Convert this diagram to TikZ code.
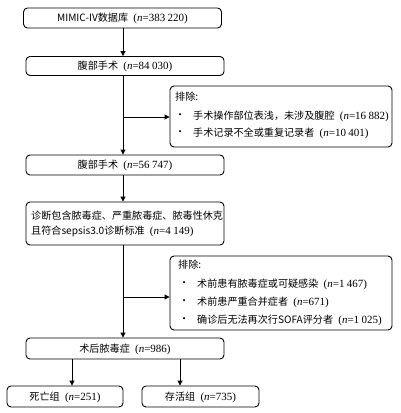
\documentclass[tikz,border=0pt]{standalone}
\usepackage{fontspec}
\setmainfont{Liberation Serif}
\setsansfont{Liberation Sans}
\newfontfamily\cjk{Noto Sans CJK SC}
\usetikzlibrary{arrows.meta}
\newcommand{\nv}[1]{\hspace{3pt}{\rmfamily\fontsize{11}{12}\selectfont(\textit{n}=#1)}}
\newcommand{\dsp}{\hspace{2.4pt}}
\begin{document}
\begin{tikzpicture}[x=1pt,y=-1pt,
  box/.style={draw,line width=0.9pt,rounded corners=4pt,inner sep=0pt},
  txt/.style={inner sep=0pt,font=\fontsize{10.1}{12}\selectfont\cjk},
  arr/.style={line width=0.9pt,-{Triangle[length=5pt,width=5pt]}},
  ln/.style={line width=0.9pt}]
\useasboundingbox (0,0) rectangle (401,413);
% main boxes
\node[box,minimum width=198pt,minimum height=20pt] (b1) at (122.5,18) {};
\node[txt] (t1) at (122.5,18.5) {MIMIC-IV数据库 \nv{383\dsp220}};
\node[box,minimum width=198pt,minimum height=19pt] (b2) at (125,66) {};
\node[txt] (t2) at (125,66.5) {腹部手术 \nv{84\dsp030}};
\node[box,minimum width=198pt,minimum height=20pt] (b3) at (125,165) {};
\node[txt] (t3) at (125,165.5) {腹部手术 \nv{56\dsp747}};
\node[box,minimum width=198pt,minimum height=43pt] (b4) at (125,223.5) {};
\node[txt,anchor=west] (t4a) at (31,216) {诊断包含脓毒症、严重脓毒症、脓毒性休克};
\node[txt,anchor=west] (t4b) at (31,231) {且符合sepsis3.0诊断标准 \nv{4\dsp149}};
\node[box,minimum width=198pt,minimum height=21pt] (b5) at (125,348.5) {};
\node[txt] (t5) at (125,349) {术后脓毒症 \nv{986}};
\node[box,minimum width=116pt,minimum height=21pt] (b6) at (65,396.5) {};
\node[txt] (t6) at (65,397) {死亡组 \nv{251}};
\node[box,minimum width=117pt,minimum height=21pt] (b7) at (200.5,396.5) {};
\node[txt] (t7) at (200.5,397) {存活组 \nv{735}};
% exclusion box 1
\node[box,minimum width=222pt,minimum height=61pt] (e1) at (281,116.5) {};
\node[txt,anchor=west] (e1h) at (175,97) {排除:};
\node[txt,anchor=west] (e1b1) at (175,116) {•};
\node[txt,anchor=west] (e1a) at (193,116) {手术操作部位表浅，未涉及腹腔 \nv{16\dsp882}};
\node[txt,anchor=west] (e1b2) at (175,133) {•};
\node[txt,anchor=west] (e1c) at (193,133) {手术记录不全或重复记录者 \nv{10\dsp401}};
% exclusion box 2
\node[box,minimum width=222pt,minimum height=74pt] (e2) at (281,293) {};
\node[txt,anchor=west] (e2h) at (178,265) {排除:};
\node[txt,anchor=west] (e2b1) at (179,284) {•};
\node[txt,anchor=west] (e2a) at (197,284) {术前患有脓毒症或可疑感染 \nv{1\dsp467}};
\node[txt,anchor=west] (e2b2) at (179,302) {•};
\node[txt,anchor=west] (e2c) at (197,302) {术前患严重合并症者 \nv{671}};
\node[txt,anchor=west] (e2b3) at (179,320) {•};
\node[txt,anchor=west] (e2d) at (197,320) {确诊后无法再次行SOFA评分者 \nv{1\dsp025}};
% connectors
\draw[arr] (b1.south -| 123,0) -- (b2.north -| 123,0);
\draw[arr] (b2.south -| 123,0) -- (b3.north -| 123,0);
\coordinate (j1) at (123,117);
\draw[arr] (j1) -- (e1.west |- j1);
\draw[arr] (b3.south -| 123,0) -- (b4.north -| 123,0);
\draw[arr] (b4.south -| 123,0) -- (b5.north -| 123,0);
\coordinate (j2) at (123,297);
\draw[arr] (j2) -- (e2.west |- j2);
\draw[arr] (b5.south -| 72,0) -- (b6.north -| 72,0);
\draw[arr] (b5.south -| 180,0) -- (b7.north -| 180,0);
\end{tikzpicture}
\end{document}
